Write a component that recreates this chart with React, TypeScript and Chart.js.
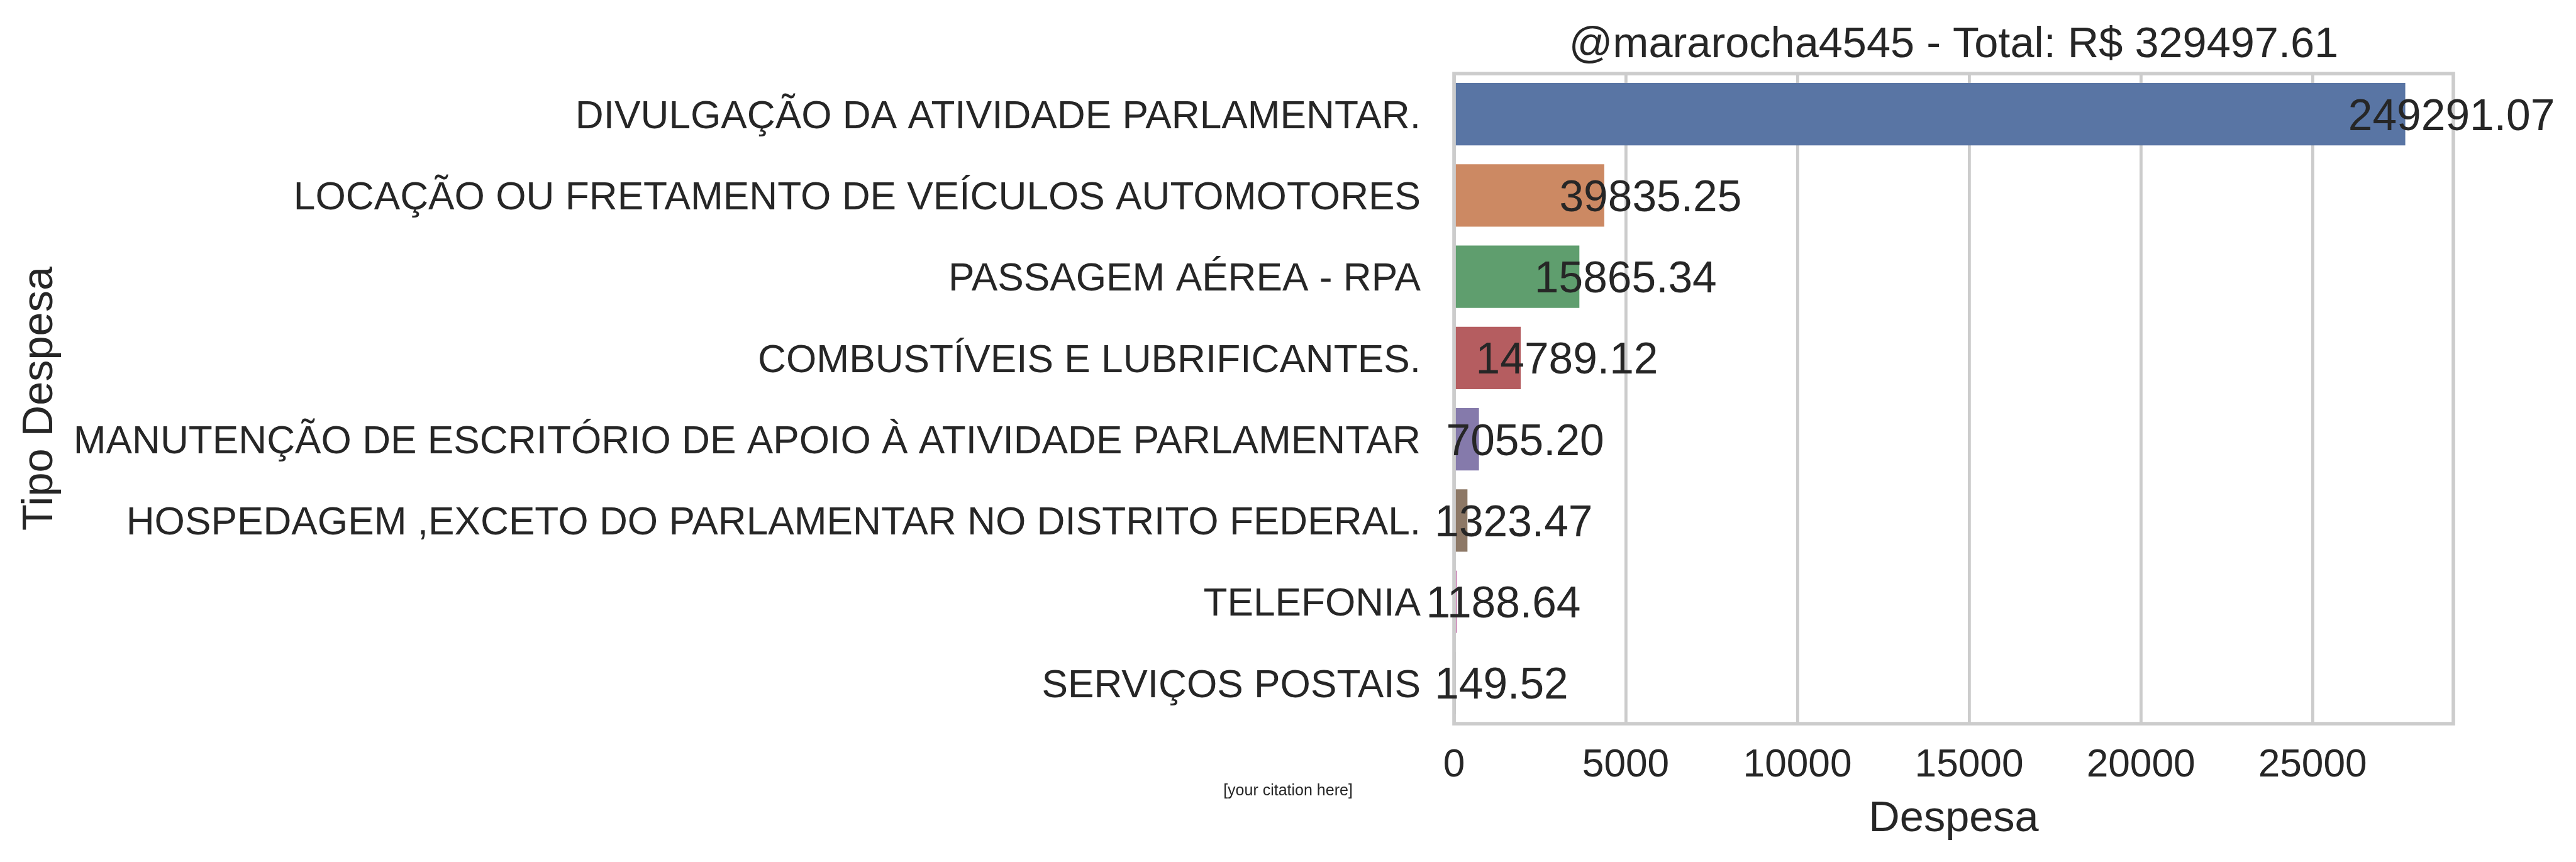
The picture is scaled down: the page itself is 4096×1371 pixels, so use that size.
import React, { useEffect, useRef } from "react";
import { Chart, registerables } from "chart.js";

Chart.register(...registerables);

// ---- data ----
const categories = [
  "DIVULGAÇÃO DA ATIVIDADE PARLAMENTAR.",
  "LOCAÇÃO OU FRETAMENTO DE VEÍCULOS AUTOMOTORES",
  "PASSAGEM AÉREA - RPA",
  "COMBUSTÍVEIS E LUBRIFICANTES.",
  "MANUTENÇÃO DE ESCRITÓRIO DE APOIO À ATIVIDADE PARLAMENTAR",
  "HOSPEDAGEM ,EXCETO DO PARLAMENTAR NO DISTRITO FEDERAL.",
  "TELEFONIA",
  "SERVIÇOS POSTAIS",
];
const barValues = [27700, 4375, 3650, 1942, 726, 391, 90, 35];
const labelValues = [249291.07, 39835.25, 15865.34, 14789.12, 7055.2, 1323.47, 1188.64, 149.52];
const barColors = ["#5975A4", "#CC8963", "#5F9E6E", "#B55D60", "#857AAB", "#8D7866", "#D095BF", "#8C8C8C"];
const xTicks = [0, 5000, 10000, 15000, 20000, 25000];
const xMax = 29100;
const titleText = "@mararocha4545 - Total: R$ 329497.61";
const xLabel = "Despesa";
const yLabel = "Tipo Despesa";
const citation = "[your citation here]";

// ---- style ----
const W = 4096;
const H = 1371;
const FONT = "'Liberation Sans', Arial, Helvetica, sans-serif";
const TEXT = "#262626";
const GRID = "#cccccc";
const TICK_SIZE = 62.2;
const TITLE_SIZE = 68.5;
const VALUE_SIZE = 69.5;
const CHART_LEFT = 2312;
const CHART_RIGHT = 3901;
const CHART_TOP = 117;
const CHART_BOTTOM = 1151;

const decor = {
  id: "decor",
  afterDatasetsDraw(chart: any) {
    const { ctx, chartArea: a, scales } = chart;
    ctx.save();
    // frame (spines)
    ctx.strokeStyle = GRID;
    ctx.lineWidth = 5.6;
    ctx.strokeRect(a.left, a.top, a.right - a.left, a.bottom - a.top);

    ctx.fillStyle = TEXT;
    // value labels
    ctx.font = `${VALUE_SIZE}px ${FONT}`;
    ctx.textAlign = "center";
    ctx.textBaseline = "alphabetic";
    barValues.forEach((v, i) => {
      const x = scales.x.getPixelForValue(v) + 73.5;
      const y = scales.y.getPixelForValue(i) + 0.358 * VALUE_SIZE;
      ctx.fillText(labelValues[i].toFixed(2), x, y);
    });

    const cx = (a.left + a.right) / 2;
    const cy = (a.top + a.bottom) / 2;
    ctx.font = `${TITLE_SIZE}px ${FONT}`;
    // title
    ctx.fillText(titleText, cx, 90.6);
    // x label
    ctx.fillText(xLabel, cx, 1322);
    // y label
    ctx.save();
    ctx.translate(83, cy);
    ctx.rotate(-Math.PI / 2);
    ctx.fillText(yLabel, 0, 0);
    ctx.restore();
    // citation
    ctx.font = `25px ${FONT}`;
    ctx.fillText(citation, W / 2, 1265);
    ctx.restore();
  },
};

export default function App() {
  const ref = useRef<HTMLCanvasElement | null>(null);

  useEffect(() => {
    document.body.style.margin = "0";
    const canvas = ref.current;
    if (!canvas) return;
    const chart = new Chart(canvas, {
      type: "bar",
      data: {
        labels: categories,
        datasets: [
          {
            data: barValues,
            backgroundColor: barColors,
            borderWidth: 0,
            categoryPercentage: 1,
            barPercentage: 0.766,
          },
        ],
      },
      options: {
        indexAxis: "y",
        animation: false,
        responsive: false,
        maintainAspectRatio: false,
        devicePixelRatio: 1,
        layout: {
          padding: { left: 0, right: W - CHART_RIGHT, top: CHART_TOP, bottom: 0 },
        },
        plugins: {
          legend: { display: false },
          title: { display: false },
          tooltip: { enabled: false },
        },
        scales: {
          x: {
            type: "linear",
            min: 0,
            max: xMax,
            border: { display: false },
            grid: { color: GRID, lineWidth: 4.8, drawTicks: false },
            afterBuildTicks: (s: any) => {
              s.ticks = xTicks.map((v) => ({ value: v }));
            },
            ticks: {
              padding: 30,
              color: TEXT,
              font: { family: FONT, size: TICK_SIZE },
              maxRotation: 0,
              minRotation: 0,
              autoSkip: false,
              callback: (v: any) => String(v),
            },
            afterFit: (s: any) => {
              s.height = H - CHART_BOTTOM;
            },
          },
          y: {
            type: "category",
            offset: true,
            border: { display: false },
            grid: { display: false, drawTicks: false },
            ticks: {
              padding: 53,
              labelOffset: 5,
              color: TEXT,
              font: { family: FONT, size: TICK_SIZE },
              autoSkip: false,
            },
            afterFit: (s: any) => {
              s.width = CHART_LEFT;
            },
          },
        },
      },
      plugins: [decor],
    });
    return () => chart.destroy();
  }, []);

  return (
    <div style={{ width: W, height: H, position: "relative", background: "#ffffff" }}>
      <canvas ref={ref} width={W} height={H} style={{ display: "block", width: W, height: H }} />
    </div>
  );
}
